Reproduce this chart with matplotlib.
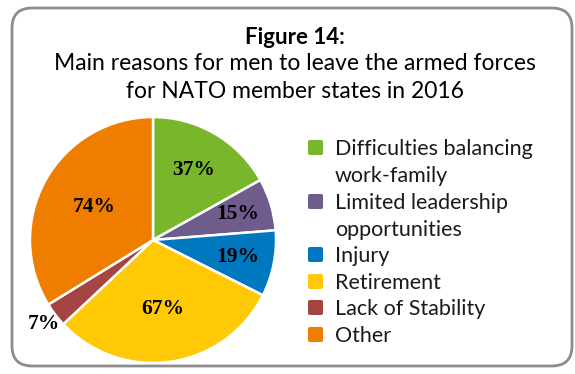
import matplotlib.pyplot as plt
import numpy as np
from matplotlib.patches import FancyBboxPatch

# data
reasons = ["Difficulties balancing\nwork-family", "Limited leadership\nopportunities",
           "Injury", "Retirement", "Lack of Stability", "Other"]
values = [37, 15, 19, 67, 7, 74]
colors = ["#78b62b", "#6e5c8c", "#0078bf", "#ffca05", "#a64444", "#ee7d00"]

W, H = 575, 374
fig = plt.figure(figsize=(W / 100, H / 100), dpi=100)

# rounded frame
frame = FancyBboxPatch((12 / W, 8 / H), 560 / W, 358 / H,
                       boxstyle="round,pad=0,rounding_size=0.035",
                       transform=fig.transFigure, fill=False,
                       edgecolor="#8c8c8c", linewidth=2, mutation_aspect=W / H)
fig.patches.append(frame)

fig.text(295 / W, 1 - 38 / H, "Figure 14:", ha="center", va="center",
         fontsize=16, fontweight="bold", family="Lato")
fig.text(295 / W, 1 - 64 / H, "Main reasons for men to leave the armed forces",
         ha="center", va="center", fontsize=16.5, family="Lato")
fig.text(295 / W, 1 - 92 / H, "for NATO member states in 2016",
         ha="center", va="center", fontsize=16.5, family="Lato")

# pie centred at (153, 240), radius ~123 px
r = 123
ax = fig.add_axes([(153 - r) / W, 1 - (240 + r) / H, 2 * r / W, 2 * r / H])
wedges, _ = ax.pie(values, colors=colors, startangle=90, counterclock=False,
                   wedgeprops=dict(edgecolor="white", linewidth=1.8))
ax.set_xlim(-1, 1)
ax.set_ylim(-1, 1)
ax.set_aspect("equal")

label_r = {0: 0.66, 1: 0.72, 2: 0.7, 3: 0.57, 4: 1.12, 5: 0.55}
for i, (w, v) in enumerate(zip(wedges, values)):
    ang = np.deg2rad((w.theta1 + w.theta2) / 2)
    d = label_r[i]
    ax.text(d * np.cos(ang), d * np.sin(ang), f"{v}%", ha="center", va="center",
            fontsize=15.5, fontweight="bold", family="Liberation Serif")

# legend
ys = [148, 202, 255, 282, 308, 335]
for lab, c, y in zip(reasons, colors, ys):
    sq = FancyBboxPatch(((315 - 7) / W, 1 - (y + 7) / H), 15 / W, 15 / H,
                        boxstyle="round,pad=0,rounding_size=0.004",
                        transform=fig.transFigure, facecolor=c, edgecolor="none")
    fig.patches.append(sq)
    for k, line in enumerate(lab.split("\n")):
        fig.text(335 / W, 1 - (y + 7 + 27 * k) / H, line, ha="left", va="baseline",
                 fontsize=15.5, family="Lato", color="#1a1a1a")

fig.savefig("out.png", dpi=100)
